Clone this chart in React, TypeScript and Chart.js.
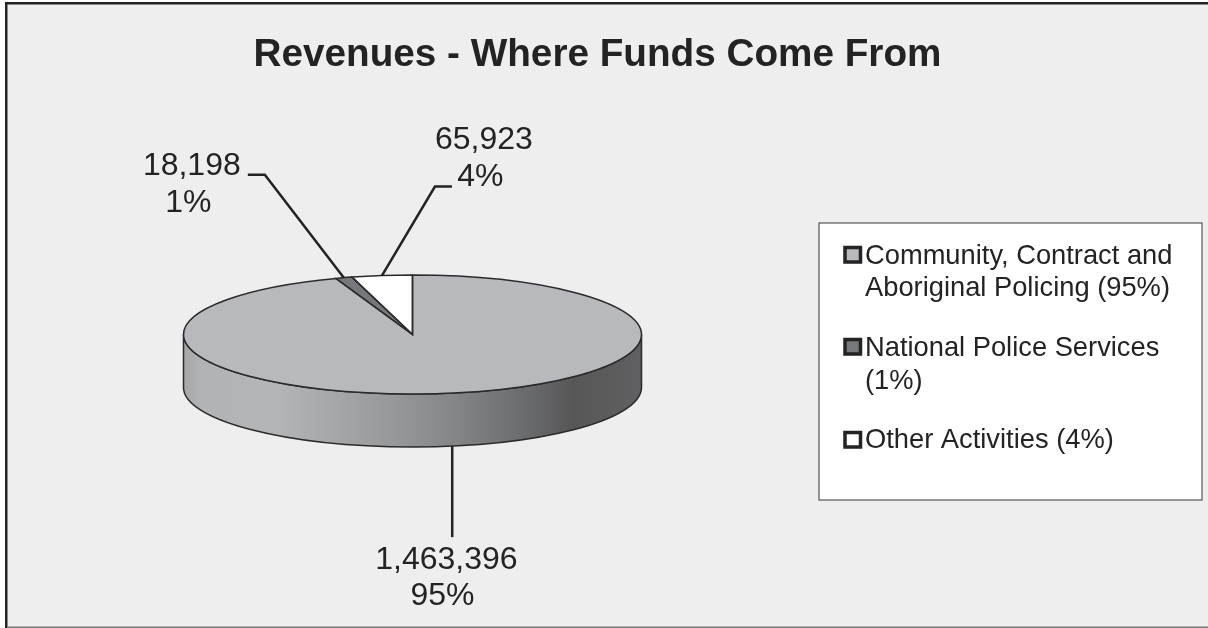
import React, { useEffect, useRef } from "react";
import { Chart, registerables } from "chart.js";

Chart.register(...registerables);

const titleText = "Revenues - Where Funds Come From";
const categories = [
  "Community, Contract and Aboriginal Policing (95%)",
  "National Police Services (1%)",
  "Other Activities (4%)",
];
const revenueValues = [1463396, 18198, 65923];
const sliceColors = ["#b8b9bc", "#77787b", "#ffffff"];
const valueLabels = ["1,463,396", "18,198", "65,923"];
const percentLabels = ["95%", "1%", "4%"];
const legendLines = [
  ["Community, Contract and", "Aboriginal Policing (95%)"],
  ["National Police Services", "(1%)"],
  ["Other Activities (4%)"],
];

const INK = "#232323";
const FONT = '"Liberation Sans", Arial, sans-serif';
const TILT = 59.5 / 229;
const DEPTH = 53;

const leaderStyle = [
  { fromWall: true, elbow: [0.8, 91], end: [0.8, 91], value: [-5, 113.7], pct: [-9, 149.7] },
  { fromWall: false, elbow: [-79, -103], end: [-96, -103], value: [-152, -112], pct: [-155.5, -74.5] },
  { fromWall: false, elbow: [53, -89], end: [70, -89], value: [102, -135], pct: [98.5, -98] },
];
const legendBox = { x: 819, y: 223, w: 383, h: 277 };
const legendRows = [
  { marker: 254.5, lines: [256, 288] },
  { marker: 346.5, lines: [348.5, 381] },
  { marker: 439.5, lines: [440.5] },
];

const pie3d = {
  id: "pie3d",
  beforeDraw(chart: any) {
    const { ctx, width, height } = chart;
    ctx.save();
    ctx.fillStyle = "#ffffff";
    ctx.fillRect(0, 0, width, height);
    ctx.fillStyle = "#eeeeee";
    ctx.fillRect(6, 3, width - 6, height - 4);
    ctx.fillStyle = INK;
    ctx.fillRect(5, 2, width - 5, 2.5);
    ctx.fillRect(5, 2, 2.5, height - 2);
    ctx.fillStyle = "#777777";
    ctx.fillRect(7, height - 1.5, width - 7, 1.5);
    ctx.restore();
  },
  beforeDatasetsDraw(chart: any) {
    const { ctx } = chart;
    const arc = chart.getDatasetMeta(0).data[0];
    const { x, y, outerRadius: r } = arc;
    const ry = r * TILT;
    ctx.save();
    const g = ctx.createLinearGradient(x - r, 0, x + r, 0);
    g.addColorStop(0, "#a6a7a9");
    g.addColorStop(0.04, "#b2b3b5");
    g.addColorStop(0.2, "#b4b5b7");
    g.addColorStop(0.45, "#98999b");
    g.addColorStop(0.6, "#838486");
    g.addColorStop(0.75, "#6a6b6d");
    g.addColorStop(0.85, "#575758");
    g.addColorStop(1, "#606062");
    ctx.beginPath();
    ctx.ellipse(x, y, r, ry, 0, 0, Math.PI);
    ctx.ellipse(x, y + DEPTH, r, ry, 0, Math.PI, 0, true);
    ctx.closePath();
    ctx.fillStyle = g;
    ctx.fill();
    ctx.strokeStyle = "#2a2a2a";
    ctx.lineWidth = 1.5;
    ctx.stroke();
    ctx.restore();
    ctx.save();
    ctx.translate(x, y);
    ctx.scale(1, TILT);
    ctx.translate(-x, -y);
  },
  afterDatasetsDraw(chart: any) {
    const { ctx } = chart;
    ctx.restore();
    const arcs = chart.getDatasetMeta(0).data;
    ctx.save();
    ctx.strokeStyle = "#2a2a2a";
    ctx.lineWidth = 1.5;
    arcs.forEach((a: any) => {
      ctx.beginPath();
      ctx.moveTo(a.x, a.y);
      ctx.ellipse(a.x, a.y, a.outerRadius, a.outerRadius * TILT, 0, a.startAngle, a.endAngle);
      ctx.closePath();
      ctx.stroke();
    });
    ctx.textAlign = "center";
    ctx.textBaseline = "middle";
    ctx.font = `32px ${FONT}`;
    arcs.forEach((a: any, i: number) => {
      const mid = (a.startAngle + a.endAngle) / 2;
      const st = leaderStyle[i];
      const sx = a.x + a.outerRadius * Math.cos(mid);
      const sy = a.y + a.outerRadius * TILT * Math.sin(mid) + (st.fromWall ? DEPTH : 0);
      ctx.strokeStyle = INK;
      ctx.lineWidth = 2.5;
      ctx.beginPath();
      ctx.moveTo(sx + (st.fromWall ? st.elbow[0] : 0), sy);
      ctx.lineTo(sx + st.elbow[0], sy + st.elbow[1]);
      ctx.lineTo(sx + st.end[0], sy + st.end[1]);
      ctx.stroke();
      ctx.fillStyle = INK;
      ctx.fillText(valueLabels[i], sx + st.value[0], sy + st.value[1]);
      ctx.fillText(percentLabels[i], sx + st.pct[0], sy + st.pct[1]);
    });
    const b = legendBox;
    ctx.fillStyle = "#ffffff";
    ctx.fillRect(b.x, b.y, b.w, b.h);
    ctx.strokeStyle = "#555555";
    ctx.lineWidth = 1.2;
    ctx.strokeRect(b.x, b.y, b.w, b.h);
    ctx.textAlign = "left";
    ctx.font = `27.3px ${FONT}`;
    legendLines.forEach((lines, i) => {
      const row = legendRows[i];
      ctx.fillStyle = sliceColors[i];
      ctx.fillRect(845, row.marker - 7.5, 15.5, 15);
      ctx.strokeStyle = INK;
      ctx.lineWidth = 3.5;
      ctx.strokeRect(845, row.marker - 7, 15.5, 14.5);
      ctx.fillStyle = INK;
      lines.forEach((t, j) => ctx.fillText(t, 865, row.lines[j]));
    });
    ctx.restore();
  },
};

const titleFit = {
  id: "titleFit",
  afterLayout(chart: any) {
    chart.titleBlock.left = 0;
    chart.titleBlock.right = 1195;
  },
};

export default function App() {
  const ref = useRef<HTMLCanvasElement>(null);
  useEffect(() => {
    document.body.style.margin = "0";
    document.body.style.overflow = "hidden";
    const chart = new Chart(ref.current!, {
      type: "pie",
      data: {
        labels: categories,
        datasets: [
          {
            data: revenueValues,
            backgroundColor: sliceColors,
            borderWidth: 0,
            clip: false,
          } as any,
        ],
      },
      options: {
        animation: false,
        responsive: false,
        devicePixelRatio: 1,
        layout: { padding: { left: 183, right: 566, top: 32.5, bottom: 64.5 } },
        plugins: {
          legend: { display: false },
          tooltip: { enabled: false },
          title: {
            display: true,
            text: titleText,
            color: INK,
            font: { family: FONT, size: 38.7, weight: "bold", lineHeight: 1.2 },
            padding: { top: 0, bottom: 26.56 },
          },
        },
      } as any,
      plugins: [pie3d, titleFit],
    });
    return () => chart.destroy();
  }, []);
  return <canvas ref={ref} width={1208} height={628} style={{ display: "block", width: 1208, height: 628 }} />;
}
